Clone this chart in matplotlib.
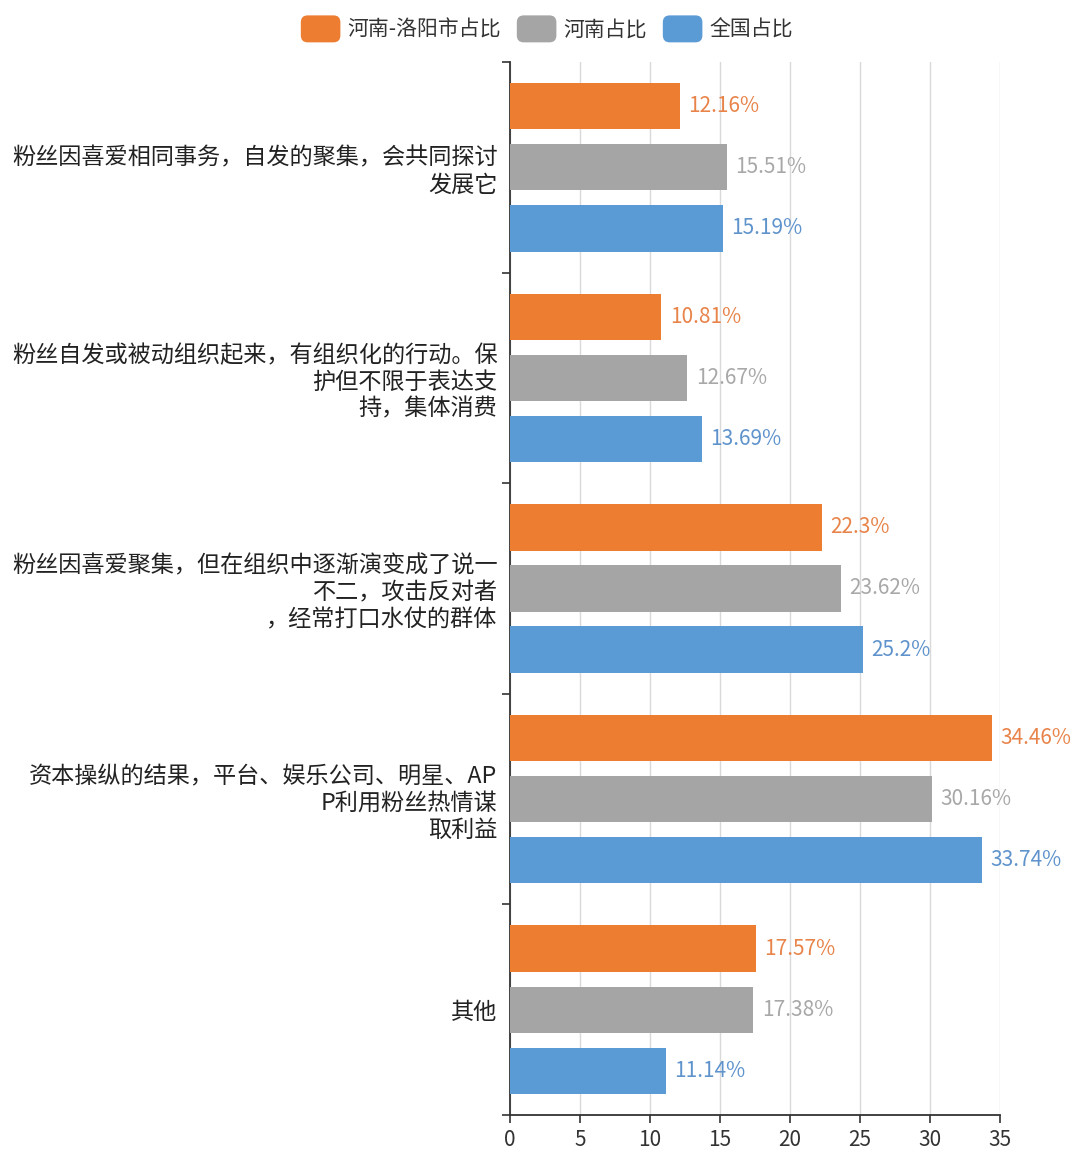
import matplotlib
matplotlib.use("Agg")
import matplotlib.pyplot as plt
import numpy as np
from matplotlib.patches import FancyBboxPatch, Patch
from matplotlib.legend_handler import HandlerPatch

plt.rcParams['font.family'] = ['Noto Sans CJK SC', 'DejaVu Sans']

categories = [
    "粉丝因喜爱相同事务，自发的聚集，会共同探讨\n发展它",
    "粉丝自发或被动组织起来，有组织化的行动。保\n护但不限于表达支\n持，集体消费",
    "粉丝因喜爱聚集，但在组织中逐渐演变成了说一\n不二，攻击反对者\n，经常打口水仗的群体",
    "资本操纵的结果，平台、娱乐公司、明星、AP\nP利用粉丝热情谋\n取利益",
    "其他",
]
series_names = ["河南-洛阳市占比", "河南占比", "全国占比"]
luoyang = [12.16, 10.81, 22.3, 34.46, 17.57]
henan = [15.51, 12.67, 23.62, 30.16, 17.38]
national = [15.19, 13.69, 25.2, 33.74, 11.14]
x_ticks = [0, 5, 10, 15, 20, 25, 30, 35]

colors = ["#ED7D31", "#A5A5A5", "#5B9BD5"]
label_colors = ["#E8844A", "#A8A8A8", "#5F93CC"]

fig = plt.figure(figsize=(10.77, 11.57), dpi=100)
ax = fig.add_axes([510/1077, 1 - 1115/1157, 490/1077, (1115-62)/1157])

y = np.arange(len(categories))
offsets = [-0.29, 0.0, 0.29]
height = 0.22
all_series = [luoyang, henan, national]
for s, (vals, name, c, lc, off) in enumerate(zip(all_series, series_names, colors, label_colors, offsets)):
    bars = ax.barh(y + off, vals, height=height, color=c, label=name, zorder=3)
    for b, v in zip(bars, vals):
        ax.annotate(f"{v:g}%", xy=(b.get_width(), b.get_y() + b.get_height()/2),
                    xytext=(6, 0), textcoords="offset points", va="center", ha="left",
                    fontsize=15, color=lc, zorder=4)

ax.set_xlim(0, 35)
ax.set_ylim(len(categories) - 0.5, -0.5)
ax.set_xticks(x_ticks)
ax.set_xticklabels([str(t) for t in x_ticks], fontsize=15, color="#333333")
ax.grid(axis="x", color="#D9D9D9", linewidth=1, zorder=0)
ax.set_axisbelow(True)

ax.set_yticks(np.arange(len(categories) + 1) - 0.5)
ax.set_yticklabels([])
ax.set_yticks(y, minor=True)
ax.set_yticklabels(categories, minor=True, fontsize=16.7, color="#222222", linespacing=1.2)
ax.tick_params(axis="y", which="minor", length=0, pad=9)
ax.tick_params(axis="y", which="major", length=6, width=1.2, color="#333333")
ax.tick_params(axis="x", length=6, width=1.2, color="#333333", pad=4)
for sp in ["top", "right"]:
    ax.spines[sp].set_visible(False)
for sp in ["left", "bottom"]:
    ax.spines[sp].set_color("#333333")
    ax.spines[sp].set_linewidth(1.3)


class RoundHandler(HandlerPatch):
    def create_artists(self, legend, orig_handle, xdescent, ydescent, width, height, fontsize, trans):
        p = FancyBboxPatch((-xdescent, -ydescent - 3), width, height + 6,
                           boxstyle="round,pad=0,rounding_size=5",
                           facecolor=orig_handle.get_facecolor(), edgecolor="none", transform=trans)
        return [p]

handles = [Patch(facecolor=c, label=n) for c, n in zip(colors, series_names)]
leg = fig.legend(handles=handles, loc="center", bbox_to_anchor=(547/1077, 1 - 30/1157), ncol=3,
                 frameon=False, fontsize=15, handlelength=1.9, handleheight=1.0,
                 handletextpad=0.35, columnspacing=0.75,
                 handler_map={Patch: RoundHandler()})
for t in leg.get_texts():
    t.set_color("#333333")

fig.savefig("out.png", dpi=100)
